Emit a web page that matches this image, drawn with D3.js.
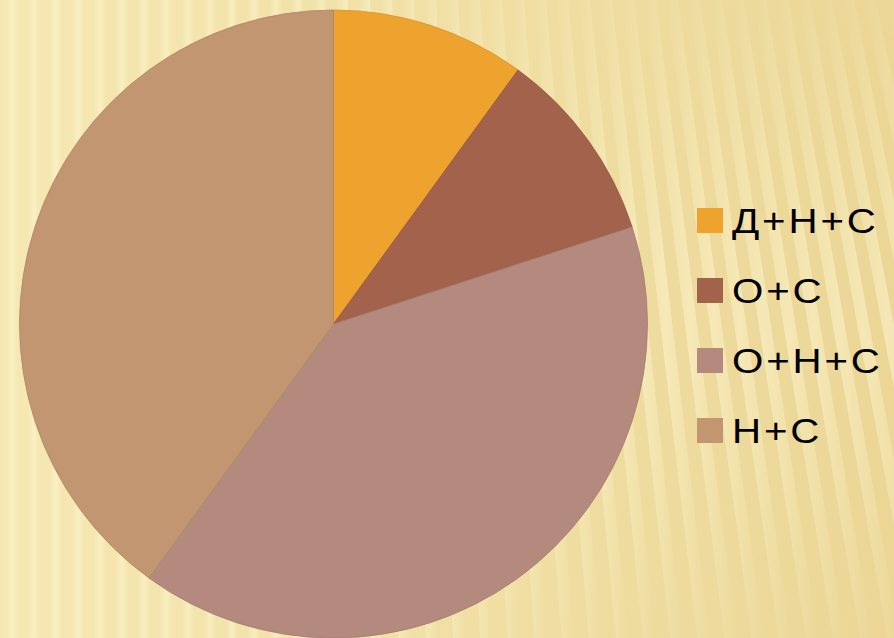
<!DOCTYPE html>
<html>
<head>
<meta charset="utf-8">
<script src="https://cdn.jsdelivr.net/npm/d3@7"></script>
<style>
  html, body { margin: 0; padding: 0; background: #f3e3a8; }
  svg { display: block; }
</style>
</head>
<body>
<svg id="chart" width="894" height="638"></svg>
<script>
// data
const categories = ["Д+Н+С", "О+С", "О+Н+С", "Н+С"];
const values = [10, 10, 40, 40];
const colors = ["#efa32f", "#a3624b", "#b48a7f", "#c29670"];

const W = 894, H = 638;
const svg = d3.select("#chart");
const defs = svg.append("defs");

// background: cream base with soft stripes
const base = defs.append("linearGradient").attr("id", "bgBase")
  .attr("x1", "0").attr("x2", "1").attr("y1", "0").attr("y2", "0");
base.append("stop").attr("offset", "0").attr("stop-color", "#f6e8b3");
base.append("stop").attr("offset", "1").attr("stop-color", "#ebd696");

const stripe = defs.append("linearGradient").attr("id", "stripe")
  .attr("x1", "0").attr("x2", "1").attr("y1", "0").attr("y2", "0");
stripe.append("stop").attr("offset", "0").attr("stop-color", "#fff8d4").attr("stop-opacity", 0.0);
stripe.append("stop").attr("offset", "0.5").attr("stop-color", "#fff8d4").attr("stop-opacity", 0.5);
stripe.append("stop").attr("offset", "1").attr("stop-color", "#fff8d4").attr("stop-opacity", 0.0);

svg.append("rect").attr("width", W).attr("height", H).attr("fill", "url(#bgBase)");

const stripeG = svg.append("g");
const period = 22;
for (let x = -60; x < W + 60; x += period) {
  // tilt grows toward the right edge
  const tilt = Math.max(0, (x - 300) / 600) * 0.22;
  const dx = tilt * H;
  stripeG.append("path")
    .attr("d", `M${x},0 L${x + 12},0 L${x + 12 + dx},${H} L${x + dx},${H} Z`)
    .attr("fill", "url(#stripe)");
}

// pie
const cx = 333.5, cy = 324, r = 314;
const pie = d3.pie().sort(null).value(d => d);
const arc = d3.arc().innerRadius(0).outerRadius(r);

const g = svg.append("g").attr("transform", `translate(${cx},${cy})`);
g.selectAll("path")
  .data(pie(values))
  .enter().append("path")
  .attr("d", arc)
  .attr("fill", (d, i) => colors[i])
  .attr("stroke", (d, i) => d3.color(colors[i]).darker(0.3))
  .attr("stroke-width", 0.8);

// legend
const legend = svg.append("g").attr("transform", "translate(697,208)");
const rows = legend.selectAll("g")
  .data(categories)
  .enter().append("g")
  .attr("transform", (d, i) => `translate(0,${i * 70})`);

rows.append("rect")
  .attr("width", 26).attr("height", 25)
  .attr("fill", (d, i) => colors[i]);

// labels are drawn a bit wider than plain Arial, like the original
rows.append("text")
  .attr("transform", "translate(35,25) scale(1.15,1)")
  .attr("font-family", "Liberation Sans, Arial, sans-serif")
  .attr("font-size", 35)
  .attr("letter-spacing", 2.5)
  .attr("fill", "#000")
  .text(d => d);
</script>
</body>
</html>
